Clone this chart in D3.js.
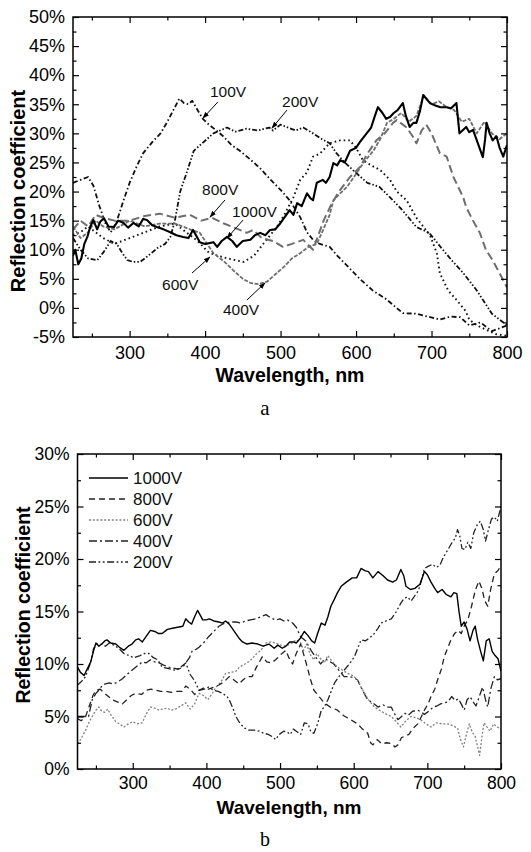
<!DOCTYPE html>
<html><head><meta charset="utf-8">
<script src="https://cdn.jsdelivr.net/npm/d3@7"></script>
<style>body{margin:0;background:#fff}</style>
</head><body>
<svg id="c" width="531" height="852"></svg>
<script>
// ---------- tick labels ----------
const xTicks = [300,400,500,600,700,800];
const xMinor = [250,350,450,550,650,750];
const yTicksA = [-5,0,5,10,15,20,25,30,35,40,45,50];
const yTicksB = [0,5,10,15,20,25,30];

// ---------- panel a series ([wavelength nm, reflection %]) ----------
const a1000V = [[225,9],[228,10],[232,7.5],[236,8.5],[240,11],[244,12.2],[248,14],[252,15.1],[257,13.5],[261,14.8],[266,15.4],[272,14],[279,13.9],[285,15],[292,14.6],[298,13.8],[305,14.6],[312,14],[318,15.3],[323,15.1],[330,14.2],[336,13.9],[345,13.5],[354,13],[362,12.5],[371,12.2],[378,12],[384,13.4],[388,12.5],[393,11.3],[400,11],[411,11.3],[416,10.5],[422,11.5],[429,12.2],[436,11.5],[442,10.5],[450,11.5],[460,11.7],[466,12.5],[473,12.9],[480,12.5],[486,13.4],[493,13.5],[500,14.6],[505,15.5],[512,16.8],[517,16],[522,18],[528,17.5],[535,19.7],[540,18.8],[543,18.5],[548,21.5],[556,22],[560,21.5],[565,22.5],[570,24.9],[575,24.5],[579,25.4],[585,25],[592,27],[600,27.5],[605,28.5],[614,30],[620,31],[625,33],[629,34.5],[635,33.5],[640,32.5],[645,32.8],[650,33.5],[655,34],[662,35.2],[666,33],[671,31.1],[676,31.8],[680,31.8],[685,34],[689,36.6],[694,35.8],[698,35.2],[705,34.8],[712,34.5],[720,34.5],[726,34.3],[733,35.2],[737,30],[741,30.5],[746,31.1],[750,30.2],[755,30.6],[760,28.8],[765,27],[768,25.9],[771,29],[773,31.8],[777,30],[781,28.8],[786,29.5],[790,27.6],[795,26],[800,28]];
const a800V = [[225,13.5],[235,15],[245,14],[255,16],[265,15.5],[280,15],[300,15],[320,15.8],[340,16.2],[360,15.5],[380,16],[395,15],[409,15.5],[425,14.5],[437,13.9],[455,12.9],[464,13.4],[475,12],[490,11.5],[503,10.5],[515,11],[530,11.7],[543,10],[557,15],[568,18],[579,20.3],[592,22.5],[605,24.2],[615,26.5],[627,28.8],[638,30],[649,31.8],[654,32.3],[667,31],[675,29.5],[680,28.3],[687,30.5],[693,31.5],[700,30],[711,26.6],[720,26],[729,22.5],[742,19],[746,17.3],[755,15],[764,12.9],[772,10],[781,8.2],[790,6],[800,3.5]];
const a600V = [[225,12.5],[235,13],[245,14],[255,13],[265,12],[280,11],[300,12],[320,13],[340,14],[360,14.5],[375,13],[390,11.5],[405,9.5],[416,9],[430,8.5],[451,7.9],[465,9],[480,11.5],[495,13.9],[505,16],[517,19],[526,22],[535,23.3],[543,26],[552,26.5],[565,28.3],[579,28.8],[592,28.8],[600,27.5],[609,25.4],[620,24.5],[632,23.7],[645,22],[654,20],[667,18.5],[680,15.5],[698,12.5],[707,9.4],[711,6],[722,3],[733,1.4],[745,-0.5],[750,-2],[760,-3],[773,-3.8],[785,-4.5],[800,-4.8]];
const a400V = [[225,14],[235,12],[245,13],[255,15],[265,14],[280,13.5],[300,15],[320,14],[340,14.5],[360,14.5],[380,13.5],[393,12.9],[411,9.4],[425,8],[437,6.5],[450,5],[460,4.3],[470,4.1],[482,4.5],[495,6],[504,7],[515,8.5],[526,9.4],[537,10.5],[548,11],[555,13],[565,16],[570,18.5],[579,19.7],[588,20.8],[600,23],[610,25],[623,27],[632,29],[641,31.8],[650,32.5],[660,33.5],[670,32],[680,33],[690,36.5],[700,35],[710,35.5],[720,34.5],[730,34],[740,32],[750,32.5],[760,30],[770,32],[780,30],[790,29],[800,30]];
const a200V = [[225,12],[235,10],[245,8.5],[257,8.2],[265,9.5],[275,11.5],[283,11],[290,9.5],[297,8.2],[305,7.9],[314,7.9],[325,9],[337,10.3],[347,11],[354,12.2],[360,15],[367,20],[375,23],[385,27],[398,28.5],[411,30],[429,31],[440,30.3],[455,30.8],[470,30.5],[485,31],[490,30.5],[500,31.5],[510,31],[520,30.5],[530,31],[543,30],[555,29],[565,28.3],[574,26.6],[585,25],[600,23.2],[615,21.5],[631,20.8],[645,19],[660,17],[680,13.9],[697,12.9],[715,10],[728,8],[742,6],[760,3],[770,1],[780,-1],[790,-2],[800,-3]];
const a100V = [[225,21.5],[235,22],[245,22.5],[252,21],[260,17.5],[268,14.5],[275,13],[282,14.5],[292,18.5],[300,21.5],[310,24.5],[318,26.6],[330,28.5],[341,30],[350,32],[358,34],[366,36],[372,35.2],[378,35],[383,35.6],[390,34],[397,32.5],[405,31.5],[415,30.5],[424,29.5],[435,28],[446,27],[460,25.5],[473,24],[487,22],[500,20.3],[512,18.5],[526,15.6],[535,13],[543,11.7],[552,11],[565,10.5],[575,9],[590,7],[605,5],[622,3],[640,1.5],[662,-0.9],[680,-1],[695,-1.5],[711,-2],[725,-1.5],[738,-1.6],[750,-3],[765,-2.5],[780,-4],[800,-3]];

// ---------- panel b series ----------
const b1000V = [[225,9.7],[229,9.2],[234,8.9],[238,9.5],[243,10.2],[247,11.3],[250,12],[254,11.7],[258,11.9],[262,12.2],[265,12.3],[270,12],[277,11.9],[282,11.6],[288,11.3],[294,11.7],[299,11.9],[304,12.3],[308,12.4],[313,12.1],[318,12.6],[324,13.2],[330,13.1],[335,12.9],[340,12.9],[347,13.3],[354,13.4],[361,13.5],[368,13.6],[372,14.3],[376,14],[380,13.8],[384,14.5],[388,15.1],[392,14.6],[395,14.2],[400,14.2],[404,14.3],[410,14.1],[417,14],[422,13.9],[426,14.1],[431,13.8],[436,13.3],[440,12.9],[445,12.4],[449,12.1],[455,11.9],[462,12],[470,11.9],[477,11.7],[485,11.9],[492,11.5],[497,11.8],[503,11.5],[508,11.7],[513,12.1],[518,12.1],[522,12],[527,12.4],[533,13.1],[538,12.7],[543,12.2],[547,12],[551,12.9],[556,13.9],[561,13.7],[565,14.5],[569,15.5],[574,16.2],[578,16.8],[583,17.4],[590,17.8],[598,18.2],[604,18.2],[610,19.1],[615,18.9],[620,18.8],[626,18.2],[633,18.8],[640,18.4],[646,18],[653,17.8],[658,18],[664,19],[668,18.4],[671,17.4],[677,17.1],[683,17.2],[690,17.6],[696,18.8],[700,18.5],[705,17.8],[710,17.2],[714,16.8],[720,17.1],[726,16.6],[732,16.4],[736,16.8],[740,16.7],[743,15],[746,13.6],[750,14],[754,13.3],[758,12.2],[762,13.2],[765,13.6],[768,12.4],[772,11.3],[776,10.3],[780,12.2],[784,12.4],[788,11.2],[792,10.8],[796,10.5],[800,9.3]];
const b800V = [[225,4.8],[230,4.6],[236,5],[241,6],[246,7],[250,7.5],[256,7.6],[262,7.2],[267,6.9],[272,6.6],[279,6.4],[286,6.2],[292,6.6],[298,7],[304,7.2],[312,7.1],[318,7.5],[325,7.6],[331,7.5],[338,7.4],[345,7.4],[352,7.3],[360,7.4],[367,7.4],[372,7.9],[378,7.6],[384,7.1],[390,7.5],[396,7.7],[403,7.6],[410,7.8],[417,8],[424,8.3],[431,8.8],[437,8.5],[444,8.1],[450,8.5],[456,8.8],[462,8.8],[468,9.7],[476,10.7],[482,10.2],[488,10.1],[494,10.4],[501,10.9],[508,11.3],[512,10.6],[517,10],[522,11],[528,11.9],[533,10.7],[537,9.7],[541,8.6],[546,7.5],[553,6.9],[560,6.3],[568,5.9],[578,5.6],[586,5.1],[596,4.7],[605,4.3],[612,3.8],[619,3.4],[623,2.5],[626,2.3],[632,2.8],[638,2.4],[645,2.5],[652,2.4],[656,2.1],[660,2.3],[665,3],[669,3.1],[675,3.3],[681,3.9],[687,4.3],[692,5],[696,5.6],[701,6.2],[705,6.9],[710,7.6],[714,8.5],[719,9.5],[723,10.7],[728,11.6],[732,12.3],[737,12.9],[742,13.2],[746,12.9],[750,13.6],[755,14.2],[760,15.5],[765,17],[770,17.9],[774,17.2],[778,16],[782,15.5],[786,17.1],[791,18.6],[796,18.9],[800,19.4]];
const b600V = [[225,2.4],[230,2.9],[236,3.7],[241,4.5],[245,5],[250,5.6],[254,5.9],[258,5.5],[262,5.4],[266,5.7],[270,5.2],[277,4.5],[282,4.3],[288,4],[294,4.3],[300,4.5],[306,4.3],[313,4.4],[318,5.2],[324,5.9],[330,5.8],[336,5.6],[340,5.7],[347,5.8],[352,5.6],[358,5.7],[365,6],[372,6.3],[378,5.7],[384,6.2],[390,7.2],[396,7],[402,6.6],[408,7.2],[413,7.8],[420,8.3],[426,9.1],[433,9.2],[440,9.3],[445,9.7],[450,9.9],[457,10.2],[462,10.5],[467,10.9],[474,11.3],[481,12],[488,12.1],[494,12],[501,11.8],[508,11.7],[514,11.9],[522,12.3],[528,12],[532,11.3],[536,11.9],[541,10.9],[546,10.4],[550,11],[555,10.5],[560,10.1],[565,10.8],[570,10.3],[578,9.7],[585,9.4],[592,9.1],[599,8.9],[605,8.5],[610,7.8],[615,7.2],[620,6.6],[628,5.9],[635,5.6],[642,5.3],[651,5],[658,4.5],[664,4],[671,4.6],[678,5],[684,4.9],[691,4.7],[698,4.3],[705,4],[712,4.4],[720,4.3],[728,4.3],[735,4.1],[741,3.9],[745,2.8],[749,2.1],[753,3.3],[757,4.3],[761,3.5],[765,3.1],[768,2.2],[771,1.3],[774,3],[777,4.4],[781,4],[785,3.6],[790,4.3],[795,4],[800,3.8]];
const b400V = [[225,5],[232,5],[240,5],[245,6.6],[250,7.2],[254,7.5],[259,8],[263,8.1],[268,8.2],[274,8.1],[280,8.3],[286,8.6],[292,9],[299,9.4],[306,9.8],[313,10.2],[318,10.1],[324,10.4],[330,10.2],[336,10.1],[342,9.9],[349,9.7],[355,9.6],[362,9.5],[368,9.7],[372,10.1],[377,10.6],[381,11.3],[386,11.4],[390,11.6],[396,12],[403,12.6],[410,13.1],[417,13.6],[422,13.8],[426,13.9],[433,14],[440,14],[447,13.9],[453,14.1],[460,14.2],[467,14.3],[474,14.5],[481,14.7],[487,14.4],[494,14.2],[500,14.3],[505,14.1],[510,14.2],[517,13.9],[522,13.5],[528,12.6],[535,12.2],[542,11.3],[548,10.7],[555,10],[561,10.5],[566,10.3],[573,10],[580,9.4],[587,8.8],[594,8.8],[600,8.7],[605,8.5],[610,7.8],[615,7.1],[619,6.6],[626,6.3],[633,5.9],[640,6.1],[645,5.9],[651,5.9],[656,5.2],[660,4.7],[665,5],[670,5.3],[674,5.1],[680,5.5],[687,5.6],[692,5.4],[696,5.2],[702,5.5],[708,5.9],[713,6],[718,6.2],[723,6.3],[728,6.4],[733,6.9],[738,6.5],[742,6.7],[746,6.2],[750,5.6],[754,6.6],[758,6.9],[762,6.4],[766,6],[770,6.8],[775,7.8],[779,6.6],[782,5.9],[786,7.6],[791,8.8],[795,8.5],[800,8.6]];
const b200V = [[225,8],[230,8.3],[236,8.8],[242,10],[247,11.5],[252,11.9],[258,11.9],[263,11.7],[268,12],[274,11.8],[281,11.5],[288,11],[295,10.8],[302,10.6],[310,10.8],[316,11],[322,11],[328,10.6],[334,10.4],[340,9.7],[346,9.6],[352,9.5],[358,9.4],[365,9.7],[372,10.1],[378,9],[384,8.4],[390,7.5],[397,7.6],[403,7.8],[410,7.5],[416,7.4],[422,7.2],[428,6.9],[431,6.6],[436,5.8],[440,5],[446,4.3],[452,3.9],[458,3.7],[465,3.7],[472,3.6],[478,3.4],[484,3.3],[489,3.1],[494,2.8],[499,3.3],[505,3.6],[510,3.5],[514,3.3],[518,3.8],[524,3.5],[528,3.3],[533,4.4],[538,4.3],[542,3.5],[546,3.4],[551,4.3],[556,5.6],[560,5.9],[565,6.6],[570,7.5],[574,8.2],[580,8.8],[587,9.4],[594,10],[601,10.7],[606,11.6],[610,12.3],[616,12.2],[622,12.5],[628,12.9],[633,13.4],[637,13.9],[644,14.1],[651,14.3],[658,15],[664,15.8],[668,16.2],[673,16.4],[678,16],[683,16.5],[688,17],[692,18],[696,19.1],[701,19.3],[707,19.5],[712,19.2],[717,19.4],[722,20.2],[728,20.9],[733,21.5],[738,22],[741,22.8],[744,22.2],[747,21],[751,20.9],[755,21.6],[759,21],[763,22.5],[768,23.3],[772,23.6],[776,22.8],[779,21.7],[783,22.8],[787,23.8],[791,24],[795,23.6],[800,25]];

// annotation labels of panel a: [text, textW, textV, arrowFromW, arrowFromV, tipW, tipV]
const annotA = [
  ["100V", 406.5, 36.25, 417, 35.4, 397, 32.6],
  ["200V", 502, 34.5, 508.5, 34.0, 488.6, 30.9],
  ["800V", 396, 19.4, 426.4, 18.55, 406.5, 15.6],
  ["1000V", 435.7, 15.6, 450.3, 15.1, 429.1, 12.0],
  ["600V", 343, 3.1, 382.7, 6.0, 406.5, 8.75],
  ["400V", 423.7, -1.2, 455.5, 1.36, 479.4, 4.3]
];
const legendB = ["1000V","800V","600V","400V","200V"];

// ---------- drawing ----------
const svg = d3.select("#c");
const FONT = "Liberation Sans, Arial, Helvetica, sans-serif";

svg.append("defs").append("marker")
  .attr("id","arr").attr("viewBox","0 0 10 10").attr("refX",9).attr("refY",5)
  .attr("markerWidth",7).attr("markerHeight",7).attr("orient","auto")
  .append("path").attr("d","M0,1.5 L10,5 L0,8.5 Z").attr("fill","#000");

function drawAxes(g, x, y, yTicks, yMinor, id, labelSize, xPad) {
  const [x0,x1] = x.range(), [yb,yt] = y.range();
  g.append("clipPath").attr("id",id).append("rect")
    .attr("x",x0).attr("y",yt).attr("width",x1-x0).attr("height",yb-yt);
  const style = sel => {
    sel.select(".domain").remove();
    sel.selectAll("line").attr("stroke","#000").attr("stroke-width",1.2);
    sel.attr("font-family",FONT).attr("font-size",labelSize).attr("fill","#000");
    sel.selectAll("text").attr("fill","#000");
  };
  g.append("g").attr("transform",`translate(0,${yb})`)
    .call(d3.axisBottom(x).tickValues(xTicks).tickSize(-6).tickPadding(xPad).tickFormat(d3.format("d"))).call(style);
  g.append("g").attr("transform",`translate(0,${yb})`)
    .call(d3.axisBottom(x).tickValues(xMinor).tickSize(-3.5).tickFormat("")).call(style);
  g.append("g").attr("transform",`translate(0,${yt})`)
    .call(d3.axisTop(x).tickValues(xTicks).tickSize(-6).tickFormat("")).call(style);
  g.append("g").attr("transform",`translate(0,${yt})`)
    .call(d3.axisTop(x).tickValues(xMinor).tickSize(-3.5).tickFormat("")).call(style);
  g.append("g").attr("transform",`translate(${x0},0)`)
    .call(d3.axisLeft(y).tickValues(yTicks).tickSize(-6).tickPadding(8).tickFormat(d=>d+"%")).call(style);
  g.append("g").attr("transform",`translate(${x0},0)`)
    .call(d3.axisLeft(y).tickValues(yMinor).tickSize(-3.5).tickFormat("")).call(style);
  g.append("g").attr("transform",`translate(${x1},0)`)
    .call(d3.axisRight(y).tickValues(yTicks).tickSize(-6).tickFormat("")).call(style);
  g.append("g").attr("transform",`translate(${x1},0)`)
    .call(d3.axisRight(y).tickValues(yMinor).tickSize(-3.5).tickFormat("")).call(style);
  g.append("rect").attr("x",x0).attr("y",yt).attr("width",x1-x0).attr("height",yb-yt)
    .attr("fill","none").attr("stroke","#000").attr("stroke-width",1.5);
}

function drawSeries(g, x, y, data, color, dash, width, clip) {
  const line = d3.line().x(d=>x(d[0])).y(d=>y(d[1])).curve(d3.curveLinear);
  g.append("path").attr("d",line(data)).attr("fill","none")
    .attr("stroke",color).attr("stroke-width",width)
    .attr("stroke-dasharray",dash).attr("stroke-linejoin","round")
    .attr("clip-path",`url(#${clip})`);
}

// ----- panel a -----
const xA = d3.scaleLinear().domain([225,800]).range([73,507]);
const yA = d3.scaleLinear().domain([-5,50]).range([337,17]);
const gA = svg.append("g");
const yMinorA = yTicksA.slice(0,-1).map(v=>v+2.5);
const seriesA = [
  [a100V,"#111","5,2.5,1.5,2.5",1.8],
  [a200V,"#111","5,2,1.5,2,1.5,2",1.8],
  [a600V,"#111","1.6,3",1.9],
  [a800V,"#6e6e6e","8,4",2],
  [a400V,"#6e6e6e","4,1.5",1.8],
  [a1000V,"#000",null,2.1]
];
seriesA.forEach(s=>drawSeries(gA,xA,yA,s[0],s[1],s[2],s[3],"clipA"));
drawAxes(gA,xA,yA,yTicksA,yMinorA,"clipA",18,9);

annotA.forEach(a=>{
  gA.append("line").attr("x1",xA(a[3])).attr("y1",yA(a[4])).attr("x2",xA(a[5])).attr("y2",yA(a[6]))
    .attr("stroke","#000").attr("stroke-width",1).attr("marker-end","url(#arr)");
  gA.append("text").attr("x",xA(a[1])).attr("y",yA(a[2])).text(a[0])
    .attr("font-family",FONT).attr("font-size",15.5).attr("fill","#111");
});

gA.append("text").attr("x",(73+507)/2).attr("y",382).attr("text-anchor","middle")
  .attr("font-family",FONT).attr("font-weight","bold").attr("font-size",19.5).text("Wavelength, nm");
gA.append("text").attr("transform","translate(25,191) rotate(-90)").attr("text-anchor","middle")
  .attr("font-family",FONT).attr("font-weight","bold").attr("font-size",20).text("Reflection coefficient");
svg.append("text").attr("x",265).attr("y",415).attr("text-anchor","middle")
  .attr("font-family","Liberation Serif, Times New Roman, serif").attr("font-size",21).text("a");

// ----- panel b -----
const xB = d3.scaleLinear().domain([225,800]).range([77.5,501]);
const yB = d3.scaleLinear().domain([0,30]).range([769,454]);
const gB = svg.append("g");
const yMinorB = yTicksB.slice(0,-1).map(v=>v+2.5);
const styleB = {
  "1000V":["#000",null,1.4],
  "800V":["#222","6,4",1.3],
  "600V":["#808080","2,1.8",1.3],
  "400V":["#222","8,3,2,3",1.3],
  "200V":["#222","7,2.5,1.8,2.5,1.8,2.5",1.3]
};
const dataB = {"1000V":b1000V,"800V":b800V,"600V":b600V,"400V":b400V,"200V":b200V};
legendB.slice().reverse().forEach(k=>drawSeries(gB,xB,yB,dataB[k],styleB[k][0],styleB[k][1],styleB[k][2],"clipB"));
drawAxes(gB,xB,yB,yTicksB,yMinorB,"clipB",17.5,8);

legendB.forEach((k,i)=>{
  const yy = 478 + i*21;
  gB.append("line").attr("x1",89).attr("x2",128).attr("y1",yy).attr("y2",yy)
    .attr("stroke",styleB[k][0]).attr("stroke-width",styleB[k][2]).attr("stroke-dasharray",styleB[k][1]);
  gB.append("text").attr("x",133).attr("y",yy).attr("dy","0.35em").text(k)
    .attr("font-family",FONT).attr("font-size",17).attr("fill","#111");
});

gB.append("text").attr("x",(77+501)/2).attr("y",814).attr("text-anchor","middle")
  .attr("font-family",FONT).attr("font-weight","bold").attr("font-size",19).text("Wavelength, nm");
gB.append("text").attr("transform","translate(30,605) rotate(-90)").attr("text-anchor","middle")
  .attr("font-family",FONT).attr("font-weight","bold").attr("font-size",19.5).text("Reflection coefficient");
svg.append("text").attr("x",265).attr("y",846).attr("text-anchor","middle")
  .attr("font-family","Liberation Serif, Times New Roman, serif").attr("font-size",20).text("b");
</script>
</body></html>
